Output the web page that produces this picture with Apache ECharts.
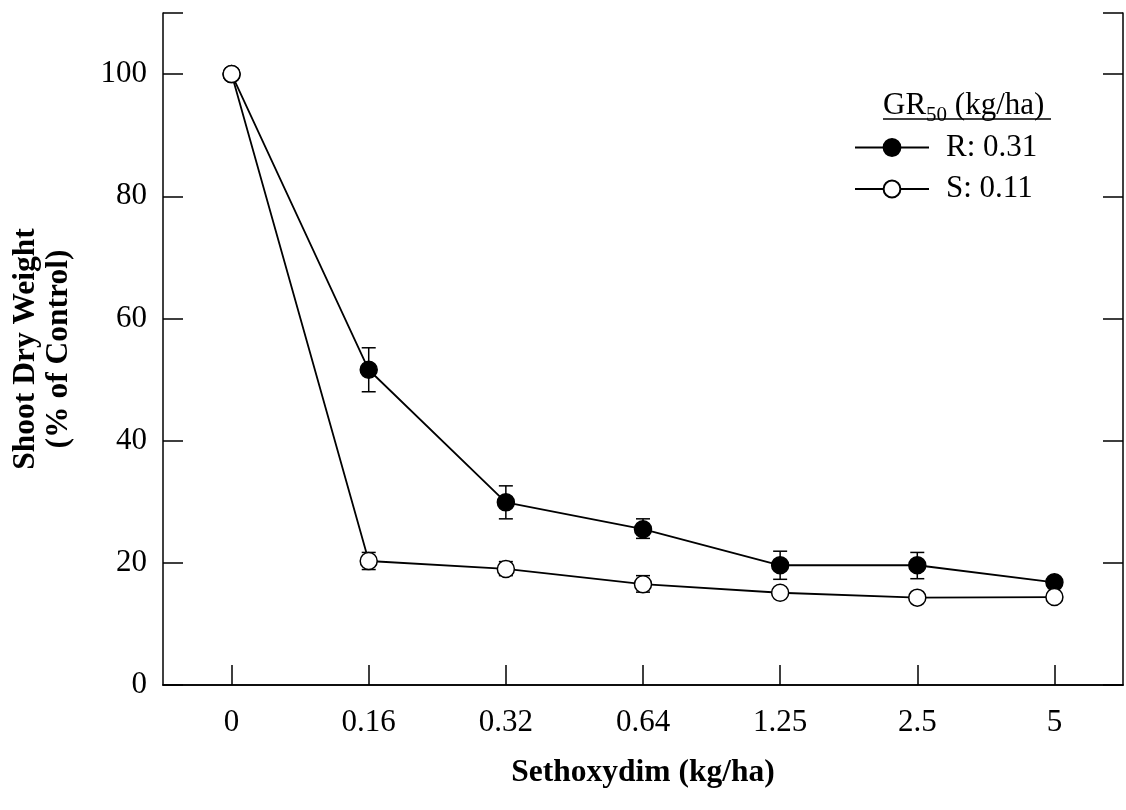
<!DOCTYPE html>
<html>
<head>
<meta charset="utf-8">
<script src="https://cdn.jsdelivr.net/npm/echarts@6/dist/echarts.min.js"></script>
<style>
  html, body { margin: 0; padding: 0; background: #fff; }
  #chart { width: 1126px; height: 810px; }
</style>
</head>
<body>
<div id="chart"></div>
<script>
// Sethoxydim dose response, R and S biotypes
const doses = ['0', '0.16', '0.32', '0.64', '1.25', '2.5', '5'];
const rMean = [100, 51.6, 29.9, 25.5, 19.6, 19.6, 16.8];
const rLow  = [100, 48.0, 27.2, 24.0, 17.3, 17.4, 16.2];
const rHigh = [100, 55.2, 32.6, 27.2, 21.9, 21.7, 17.4];
const sMean = [100, 20.3, 19.0, 16.5, 15.1, 14.3, 14.4];
const sLow  = [100, 18.9, 17.9, 15.2, 14.4, 13.7, 13.8];
const sHigh = [100, 21.7, 20.2, 17.9, 15.8, 14.9, 15.0];
const biotypes = ['R', 'S'];
const gr50 = [0.31, 0.11];
const yTicks = [0, 20, 40, 60, 80, 100];

const serif = 'Liberation Serif';
const chart = echarts.init(document.getElementById('chart'));

function errData(low, high) {
  return low.map((l, i) => [i, l, high[i]]);
}

function renderErr(params, api) {
  const lo = api.coord([api.value(0), api.value(1)]);
  const hi = api.coord([api.value(0), api.value(2)]);
  const w = 7;
  const st = { stroke: '#000', lineWidth: 1.5 };
  return {
    type: 'group',
    children: [
      { type: 'line', shape: { x1: lo[0], y1: lo[1], x2: hi[0], y2: hi[1] }, style: st },
      { type: 'line', shape: { x1: lo[0] - w, y1: lo[1], x2: lo[0] + w, y2: lo[1] }, style: st },
      { type: 'line', shape: { x1: hi[0] - w, y1: hi[1], x2: hi[0] + w, y2: hi[1] }, style: st }
    ]
  };
}

const axisLine = { show: true, lineStyle: { color: '#000', width: 1.5 } };

chart.setOption({
  animation: false,
  backgroundColor: '#fff',
  grid: { left: 163, right: 3, top: 13, bottom: 125 },
  legend: {
    data: biotypes,
    orient: 'vertical',
    left: 849,
    top: 127,
    itemWidth: 74,
    itemHeight: 21,
    itemGap: 10.5,
    formatter: name => name + ': ' + gr50[biotypes.indexOf(name)],
    textStyle: { fontFamily: serif, fontSize: 31, color: '#000', padding: [0, 0, 0, 12] }
  },
  graphic: [
    {
      type: 'text', left: 883, top: 90,
      style: {
        text: '{a|GR}{b|50}{a| (kg/ha)}',
        rich: {
          a: { fontFamily: serif, fontSize: 31, fill: '#000' },
          b: { fontFamily: serif, fontSize: 21, fill: '#000', padding: [20, 0, 0, 0] }
        }
      }
    },
    {
      type: 'line',
      shape: { x1: 883, y1: 119, x2: 1051, y2: 119 },
      style: { stroke: '#000', lineWidth: 1.5 }
    }
  ],
  xAxis: [
    {
      type: 'category',
      data: doses,
      boundaryGap: true,
      axisLine: axisLine,
      axisTick: { show: true, inside: true, alignWithLabel: true, length: 20, lineStyle: { color: '#000', width: 1.5 } },
      axisLabel: { fontFamily: serif, fontSize: 31, color: '#000', margin: 22 },
      name: 'Sethoxydim (kg/ha)',
      nameLocation: 'middle',
      nameGap: 72,
      nameTextStyle: { fontFamily: serif, fontSize: 31.5, fontWeight: 'bold', color: '#000' }
    },
    {
      type: 'category',
      data: doses,
      position: 'top',
      axisLine: axisLine,
      axisTick: { show: false },
      axisLabel: { show: false }
    }
  ],
  yAxis: [
    {
      type: 'value',
      min: 0,
      max: 110,
      interval: 20,
      splitLine: { show: false },
      axisLine: axisLine,
      axisTick: { show: true, inside: true, length: 20, lineStyle: { color: '#000', width: 1.5 } },
      axisLabel: {
        fontFamily: serif, fontSize: 31, color: '#000', margin: 16,
        formatter: v => (yTicks.includes(v) ? String(v) : '')
      },
      name: 'Shoot Dry Weight\n(% of Control)',
      nameLocation: 'middle',
      nameRotate: 90,
      nameGap: 88,
      nameTextStyle: { fontFamily: serif, fontSize: 31.5, fontWeight: 'bold', color: '#000', lineHeight: 33 }
    },
    {
      type: 'value',
      position: 'right',
      min: 0,
      max: 110,
      interval: 20,
      splitLine: { show: false },
      axisLine: axisLine,
      axisTick: { show: true, inside: true, length: 20, lineStyle: { color: '#000', width: 1.5 } },
      axisLabel: { show: false }
    }
  ],
  series: [
    {
      type: 'custom',
      renderItem: renderErr,
      data: errData(rLow, rHigh),
      encode: { x: 0, y: [1, 2] },
      z: 1,
      silent: true
    },
    {
      type: 'custom',
      renderItem: renderErr,
      data: errData(sLow, sHigh),
      encode: { x: 0, y: [1, 2] },
      z: 1,
      silent: true
    },
    {
      name: 'R',
      type: 'line',
      data: rMean,
      symbol: 'circle',
      symbolSize: 17,
      lineStyle: { color: '#000', width: 1.8 },
      itemStyle: { color: '#000', borderColor: '#000', borderWidth: 1.5 },
      z: 3
    },
    {
      name: 'S',
      type: 'line',
      data: sMean,
      symbol: 'circle',
      symbolSize: 17,
      lineStyle: { color: '#000', width: 1.8 },
      itemStyle: { color: '#fff', borderColor: '#000', borderWidth: 1.5 },
      z: 4
    }
  ]
});
</script>
</body>
</html>
